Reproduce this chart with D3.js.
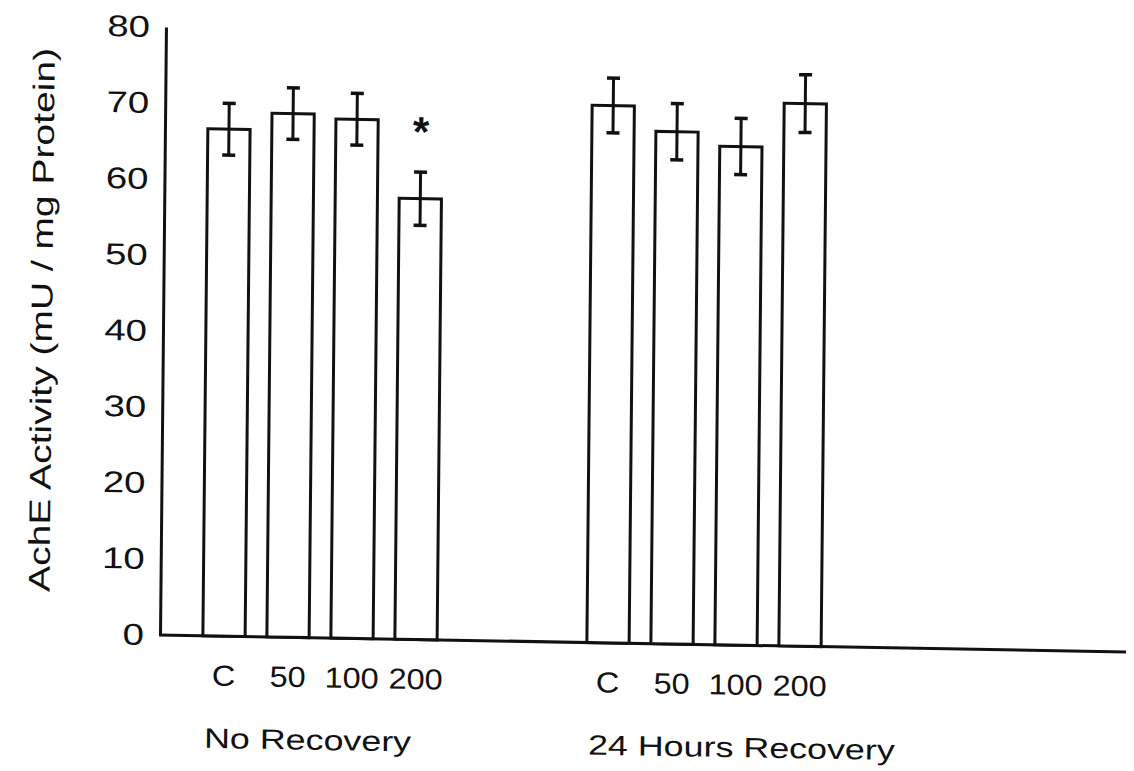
<!DOCTYPE html>
<html>
<head>
<script src="https://d3js.org/d3.v7.min.js"></script>
<style>
  body { margin: 0; background: #fff; }
  text { font-family: "Liberation Sans", Arial, sans-serif; fill: #111; }
</style>
</head>
<body>
<svg id="chart" width="1134" height="771"></svg>
<script>
const groups = ["No Recovery", "24 Hours Recovery"]
const doses = ["C", "50", "100", "200"]
const noRecoveryMeans = [66.7, 68.9, 68.3, 58.0]
const noRecoveryErrors = [3.4, 3.4, 3.4, 3.5]
const noRecoveryMarks = ["", "", "", "*"]
const recoveryMeans = [70.7, 67.4, 65.6, 71.4]
const recoveryErrors = [3.6, 3.7, 3.7, 3.8]
const recoveryMarks = ["", "", "", ""]
const yTicks = [0, 10, 20, 30, 40, 50, 60, 70, 80]
const yTitle = "AchE Activity (mU / mg Protein)"

const originX = 160, originY = 635, plotRight = 1126
const ink = "#111"

const rows = []
groups.forEach((g, gi) => {
  const means = gi === 0 ? noRecoveryMeans : recoveryMeans
  const errs = gi === 0 ? noRecoveryErrors : recoveryErrors
  const marks = gi === 0 ? noRecoveryMarks : recoveryMarks
  doses.forEach((d, i) => rows.push({ group: g, dose: d, mean: means[i], err: errs[i], mark: marks[i] }))
})

const svg = d3.select("#chart")
// the scan is slightly skewed, so the whole figure is too
const root = svg.append("g")
  .attr("transform", `translate(${originX},${originY}) matrix(1,0.0176,-0.0098,1,0,0) translate(${-originX},${-originY})`)

const y = d3.scaleLinear().domain([0, 80]).range([originY, 27])
const x0 = d3.scaleBand().domain(groups).range([192, 832]).paddingInner(1 / 3)
const x1 = d3.scaleBand().domain(doses).range([0, x0.bandwidth()]).paddingInner(0.34).paddingOuter(0.17)

// the scanned lettering is wider than Liberation Sans
function widen(factor) {
  return sel => sel.each(function () {
    const w = this.getComputedTextLength()
    d3.select(this).attr("textLength", w * factor).attr("lengthAdjust", "spacingAndGlyphs")
  })
}

// y axis
const yAxis = root.append("g")
  .attr("transform", `translate(${originX},0)`)
  .call(d3.axisLeft(y).tickValues(yTicks).tickSize(0).tickSizeOuter(0).tickPadding(16))
yAxis.select(".domain").attr("stroke", ink).attr("stroke-width", 3)
yAxis.selectAll("text").attr("font-size", 30).attr("font-family", "Liberation Sans").attr("fill", ink).call(widen(1.28))

// x axis line
root.append("line")
  .attr("x1", originX - 1).attr("x2", plotRight)
  .attr("y1", y(0)).attr("y2", y(0))
  .attr("stroke", ink).attr("stroke-width", 3)

// bars
const bars = root.append("g").selectAll("g").data(rows).join("g")
  .attr("transform", d => `translate(${x0(d.group) + x1(d.dose)},0)`)

bars.append("rect")
  .attr("x", 0).attr("width", x1.bandwidth())
  .attr("y", d => y(d.mean)).attr("height", d => y(0) - y(d.mean))
  .attr("fill", "#fff").attr("stroke", ink).attr("stroke-width", 3)

const cx = x1.bandwidth() / 2
bars.append("line")
  .attr("x1", cx).attr("x2", cx)
  .attr("y1", d => y(d.mean - d.err)).attr("y2", d => y(d.mean + d.err))
  .attr("stroke", ink).attr("stroke-width", 3)
bars.selectAll(".cap").data(d => [d.mean - d.err, d.mean + d.err]).join("line")
  .attr("class", "cap")
  .attr("x1", cx - 6.5).attr("x2", cx + 6.5)
  .attr("y1", v => y(v)).attr("y2", v => y(v))
  .attr("stroke", ink).attr("stroke-width", 3.5)

bars.filter(d => d.mark !== "").append("text")
  .attr("x", cx).attr("y", d => y(d.mean + d.err) - 26)
  .attr("text-anchor", "middle").attr("font-size", 42).attr("font-weight", "bold")
  .text(d => d.mark)

// dose labels, one axis per group
groups.forEach(g => {
  const ax = root.append("g")
    .attr("transform", `translate(${x0(g)},${originY})`)
    .call(d3.axisBottom(x1).tickSize(0).tickPadding(29))
  ax.select(".domain").remove()
  ax.selectAll("text").attr("font-size", 29).attr("font-family", "Liberation Sans").attr("fill", ink).call(widen(1.12))
})

// group labels
root.append("g").selectAll("text").data(groups).join("text")
  .attr("x", d => x0(d) + 13).attr("y", originY + 112)
  .attr("font-size", 28)
  .text(d => d)
  .call(widen(1.28))

// y title
root.append("text")
  .attr("transform", "translate(49,322) rotate(-90)")
  .attr("text-anchor", "middle").attr("font-size", 30)
  .text(yTitle)
  .call(widen(1.3))
</script>
</body>
</html>
